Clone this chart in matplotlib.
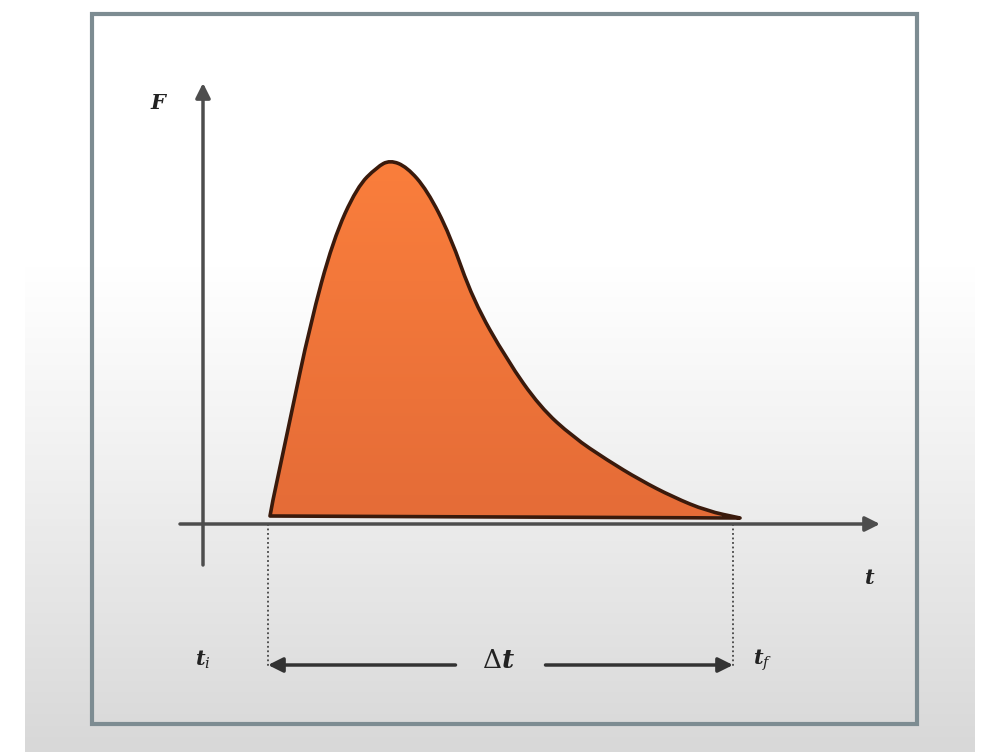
"""
Impulse sketch: force F against time t, pulse from t_i to t_f
"""

import matplotlib.pyplot as plt
import numpy as np
from matplotlib.colors import LinearSegmentedColormap
from matplotlib.patches import PathPatch, Rectangle
from matplotlib.path import Path

plt.rcParams["mathtext.fontset"] = "dejavuserif"

# pulse outline (t, F)
t_curve = [0.67, 0.70, 0.87, 1.07, 1.30, 1.54, 1.74, 1.87, 2.04, 2.24, 2.47,
           2.70, 3.04, 3.37, 3.70, 4.04, 4.37, 4.70, 5.04, 5.37]
F_curve = [0.08, 0.24, 1.04, 1.99, 2.84, 3.37, 3.57, 3.64, 3.57, 3.34, 2.89,
           2.24, 1.64, 1.17, 0.87, 0.64, 0.44, 0.27, 0.13, 0.06]
F_base = 0.08

# start / end of the interval
t_i = 0.65
t_f = 5.30

# label texts
label_F = "F"
label_t = "t"
label_ti = r"$\boldsymbol{t}_{i}$"
label_tf = r"$\boldsymbol{t}_{f}$"
label_dt = r"$\Delta\boldsymbol{t}$"

axis_col = "#4d4d4d"
edge_col = "#3a1a0c"


def smooth_outline(xs, ys, base):
    """Quadratic bezier path through the read points, closed along the base"""
    pts = list(zip(xs, ys))
    verts = [pts[0], pts[1]]
    codes = [Path.MOVETO, Path.LINETO]
    for k in range(2, len(pts) - 1):
        mid = ((pts[k][0] + pts[k + 1][0]) / 2, (pts[k][1] + pts[k + 1][1]) / 2)
        verts += [pts[k], mid]
        codes += [Path.CURVE3, Path.CURVE3]
    verts.append(pts[-1])
    codes.append(Path.LINETO)
    verts += [(xs[0], base), (xs[0], base)]
    codes += [Path.LINETO, Path.CLOSEPOLY]
    return Path(verts, codes)


fig = plt.figure(figsize=(9.95, 7.52), dpi=100)
ax = fig.add_axes([0, 0, 1, 1])

# soft grey gradient behind everything
grad = np.linspace(0, 1, 200).reshape(-1, 1)
grad = np.clip((grad - 0.35) / 0.65, 0, 1) ** 1.1
bg = LinearSegmentedColormap.from_list("bg", ["#ffffff", "#d8d8d8"])
ax.imshow(grad, extent=(-1.78, 7.72, -2.28, 5.24), cmap=bg, aspect="auto",
          origin="upper", zorder=0)
ax.set_xlim(-2.03, 7.92)
ax.set_ylim(-2.28, 5.24)
ax.axis("off")

# frame round the drawing
ax.add_patch(Rectangle((-1.11, -2.0), 8.25, 7.10, fill=False,
                       edgecolor="#7d8c92", lw=3, zorder=1))

# filled pulse with a top-to-bottom orange gradient
outline = smooth_outline(t_curve, F_curve, F_base)
clip = PathPatch(outline, facecolor="none", edgecolor="none", zorder=2)
ax.add_patch(clip)
orange = LinearSegmentedColormap.from_list("or", ["#fa7e3c", "#e56c37"])
img = ax.imshow(np.linspace(0, 1, 100).reshape(-1, 1), cmap=orange,
                extent=(min(t_curve), max(t_curve), F_base, max(F_curve)),
                aspect="auto", origin="upper", zorder=2)
img.set_clip_path(clip)
ax.add_patch(PathPatch(outline, facecolor="none", edgecolor=edge_col, lw=2.6,
                       joinstyle="round", zorder=3))
ax.set_xlim(-2.03, 7.92)
ax.set_ylim(-2.28, 5.24)

# axes arrows
ax.annotate("", xy=(0, 4.41), xytext=(0, -0.41),
            arrowprops=dict(arrowstyle="-|>", lw=2.5, color=axis_col,
                            mutation_scale=22, shrinkA=0, shrinkB=0), zorder=4)
ax.annotate("", xy=(6.77, 0), xytext=(-0.23, 0),
            arrowprops=dict(arrowstyle="-|>", lw=2.5, color=axis_col,
                            mutation_scale=22, shrinkA=0, shrinkB=0), zorder=4)

# dotted drop lines at t_i and t_f
y_arrow = -1.41
for tx in (t_i, t_f):
    ax.plot([tx, tx], [0, y_arrow - 0.02], color="#444444", lw=1.3,
            ls=(0, (1, 1.5)), zorder=3)

# interval arrows either side of the delta label
mid = (t_i + t_f) / 2
for start, end in ((mid - 0.45, t_i), (mid + 0.45, t_f)):
    ax.annotate("", xy=(end, y_arrow), xytext=(start, y_arrow),
                arrowprops=dict(arrowstyle="-|>", lw=2.5, color="#333333",
                                mutation_scale=22, shrinkA=0, shrinkB=0),
                zorder=4)

txt = dict(family="DejaVu Serif", weight="bold", style="italic",
           color="#222222", ha="center", va="center", zorder=5)
ax.text(-0.45, 4.21, label_F, fontsize=15, **txt)
ax.text(6.67, -0.54, label_t, fontsize=15, **txt)
ax.text(0.0, -1.36, label_ti, fontsize=15, **txt)
ax.text(5.60, -1.36, label_tf, fontsize=15, **txt)
ax.text(mid - 0.02, -1.36, label_dt, fontsize=19, **txt)

fig.savefig("out.png", dpi=100)
